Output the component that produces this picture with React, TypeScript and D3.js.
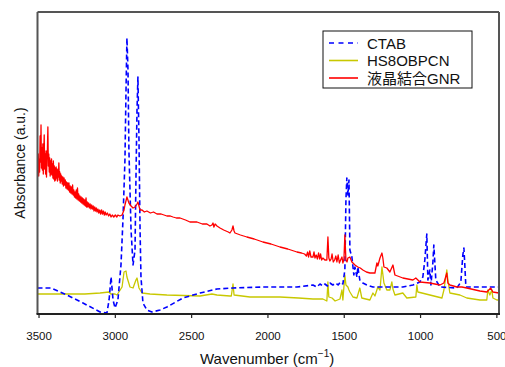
import * as d3 from "d3";

// IR spectra, wavenumber (cm-1) vs absorbance (a.u.)
const ctab: [number, number][] = [
  [3510, 0.26], [3420, 0.26], [3317, 0.19], [3212, 0.11], [3100, 0.02], [3055, 0.01],
  [3041, 0.14], [3028, 0.37], [3015, 0.14], [3002, 0.06], [2983, 0.14], [2963, 0.49],
  [2950, 0.94], [2937, 1.54], [2930, 2.24], [2924, 2.76], [2917, 2.44], [2911, 1.64],
  [2897, 0.84], [2884, 0.49], [2871, 0.64], [2865, 1.34], [2858, 2.04], [2852, 2.37],
  [2845, 1.74], [2838, 0.84], [2832, 0.37], [2819, 0.11], [2793, 0.04], [2760, 0.02],
  [2707, 0.04], [2662, 0.07], [2557, 0.16], [2445, 0.21], [2334, 0.25], [2229, 0.26],
  [2033, 0.27], [1810, 0.27], [1705, 0.29], [1680, 0.27], [1659, 0.30], [1640, 0.28],
  [1627, 0.30], [1610, 0.28], [1594, 0.31], [1575, 0.29], [1555, 0.31], [1540, 0.29],
  [1525, 0.32], [1509, 0.30], [1496, 0.44], [1489, 1.14], [1483, 1.36], [1476, 1.19],
  [1469, 1.34], [1463, 0.64], [1450, 0.57], [1437, 0.39], [1430, 0.47], [1417, 0.37],
  [1411, 0.47], [1398, 0.34], [1378, 0.31], [1352, 0.29], [1312, 0.27], [1221, 0.27],
  [1116, 0.27], [1050, 0.29], [1004, 0.32], [985, 0.37], [972, 0.54], [959, 0.80],
  [952, 0.34], [939, 0.44], [932, 0.29], [919, 0.52], [913, 0.69], [900, 0.34],
  [873, 0.27], [762, 0.26], [736, 0.32], [723, 0.59], [716, 0.66], [710, 0.49],
  [703, 0.27], [592, 0.27], [487, 0.27],
];

const hs8obpcn: [number, number][] = [
  [3510, 0.20], [3400, 0.20], [3300, 0.20], [3200, 0.20], [3100, 0.21], [3041, 0.22],
  [3030, 0.20], [3002, 0.20], [2989, 0.19], [2956, 0.27], [2943, 0.42], [2930, 0.43],
  [2924, 0.37], [2904, 0.27], [2884, 0.26], [2865, 0.34], [2858, 0.36], [2845, 0.26],
  [2825, 0.21], [2773, 0.20], [2662, 0.19], [2445, 0.18], [2367, 0.20], [2334, 0.19],
  [2249, 0.18], [2240, 0.18], [2229, 0.30], [2222, 0.19], [2118, 0.17], [1921, 0.17],
  [1800, 0.16], [1705, 0.15], [1640, 0.15], [1614, 0.13], [1607, 0.32], [1601, 0.17],
  [1580, 0.16], [1560, 0.13], [1528, 0.15], [1515, 0.24], [1509, 0.14], [1496, 0.39],
  [1489, 0.29], [1476, 0.27], [1469, 0.24], [1463, 0.22], [1443, 0.17], [1417, 0.16],
  [1398, 0.26], [1385, 0.16], [1332, 0.14], [1312, 0.21], [1299, 0.18], [1280, 0.27],
  [1266, 0.24], [1253, 0.47], [1240, 0.31], [1221, 0.24], [1201, 0.24], [1188, 0.32],
  [1181, 0.25], [1168, 0.19], [1116, 0.21], [1090, 0.16], [1031, 0.17], [1024, 0.29],
  [1018, 0.22], [991, 0.21], [939, 0.19], [860, 0.16], [847, 0.24], [828, 0.44],
  [821, 0.34], [808, 0.21], [742, 0.19], [697, 0.16], [611, 0.14], [566, 0.14],
  [559, 0.24], [546, 0.19], [533, 0.24], [526, 0.16], [500, 0.14], [487, 0.14],
];

const gnr: [number, number][] = [
  [3508, 1.49], [3505, 1.60], [3502, 1.38], [3499, 1.55], [3496, 1.42], [3493, 1.78],
  [3490, 1.52], [3487, 1.89], [3484, 1.46], [3481, 1.66], [3478, 1.44], [3475, 1.70],
  [3472, 1.40], [3469, 1.62], [3466, 1.79], [3463, 1.45], [3460, 1.60], [3457, 1.40],
  [3454, 1.63], [3451, 1.37], [3448, 1.56], [3445, 1.65], [3442, 1.87], [3439, 1.48],
  [3436, 1.60], [3433, 1.42], [3430, 1.56], [3427, 1.38], [3424, 1.53], [3421, 1.40],
  [3418, 1.55], [3415, 1.39], [3412, 1.50], [3409, 1.36], [3406, 1.53], [3403, 1.35],
  [3400, 1.48], [3397, 1.33], [3394, 1.46], [3391, 1.34], [3388, 1.47], [3385, 1.36],
  [3382, 1.45], [3379, 1.33], [3376, 1.44], [3373, 1.37], [3370, 1.51], [3367, 1.34],
  [3364, 1.42], [3361, 1.31], [3358, 1.40], [3355, 1.33], [3352, 1.38], [3348, 1.30],
  [3344, 1.37], [3340, 1.28], [3336, 1.36], [3332, 1.29], [3328, 1.34], [3324, 1.26],
  [3320, 1.32], [3316, 1.25], [3312, 1.31], [3308, 1.24], [3304, 1.31], [3300, 1.22],
  [3296, 1.28], [3292, 1.21], [3288, 1.27], [3284, 1.20], [3280, 1.29], [3276, 1.19],
  [3272, 1.24], [3268, 1.17], [3264, 1.22], [3260, 1.16], [3256, 1.24], [3252, 1.15],
  [3248, 1.26], [3244, 1.14], [3240, 1.20], [3236, 1.13], [3232, 1.18], [3228, 1.12],
  [3224, 1.17], [3220, 1.11], [3216, 1.16], [3212, 1.10], [3208, 1.15], [3204, 1.09],
  [3200, 1.14], [3196, 1.08], [3192, 1.16], [3188, 1.07], [3184, 1.12], [3180, 1.07],
  [3175, 1.11], [3170, 1.06], [3165, 1.10], [3160, 1.05], [3155, 1.09], [3150, 1.05],
  [3145, 1.08], [3140, 1.03], [3135, 1.07], [3130, 1.03], [3125, 1.06], [3120, 1.02],
  [3114, 1.05], [3108, 1.01], [3102, 1.04], [3096, 1.00], [3090, 1.04], [3084, 1.00],
  [3078, 1.03], [3072, 0.99], [3066, 1.02], [3060, 0.99], [3052, 1.01], [3044, 0.98],
  [3036, 1.00], [3028, 0.97], [3020, 0.99], [3010, 0.97], [3000, 0.99], [2990, 0.97],
  [2983, 0.99], [2970, 0.98], [2956, 0.99], [2943, 1.04], [2937, 1.09], [2924, 1.17],
  [2911, 1.11], [2897, 1.08], [2884, 1.06], [2871, 1.07], [2858, 1.10], [2852, 1.12],
  [2838, 1.04], [2825, 1.04], [2810, 1.02], [2793, 1.03], [2770, 1.01], [2750, 1.02],
  [2727, 1.00], [2700, 1.00], [2662, 0.98], [2640, 0.98], [2622, 0.97], [2600, 0.96],
  [2576, 0.96], [2540, 0.94], [2511, 0.92], [2465, 0.92], [2430, 0.90], [2400, 0.90],
  [2380, 0.88], [2367, 0.89], [2360, 0.91], [2354, 0.87], [2346, 0.90], [2334, 0.88],
  [2314, 0.86], [2290, 0.84], [2260, 0.82], [2249, 0.81], [2236, 0.84], [2229, 0.88],
  [2222, 0.83], [2216, 0.81], [2180, 0.79], [2138, 0.77], [2090, 0.75], [2033, 0.72],
  [1980, 0.70], [1921, 0.67], [1870, 0.65], [1810, 0.62], [1780, 0.61], [1760, 0.60],
  [1748, 0.58], [1740, 0.62], [1734, 0.57], [1726, 0.63], [1718, 0.57], [1705, 0.57],
  [1698, 0.62], [1692, 0.56], [1684, 0.59], [1676, 0.55], [1668, 0.61], [1661, 0.55],
  [1655, 0.60], [1648, 0.54], [1640, 0.56], [1627, 0.54], [1614, 0.54], [1607, 0.77],
  [1601, 0.56], [1594, 0.53], [1586, 0.55], [1580, 0.60], [1572, 0.52], [1563, 0.54],
  [1555, 0.58], [1548, 0.52], [1540, 0.59], [1532, 0.51], [1524, 0.54], [1515, 0.57],
  [1509, 0.51], [1502, 0.55], [1496, 0.79], [1489, 0.54], [1482, 0.52], [1476, 0.56],
  [1463, 0.57], [1450, 0.52], [1443, 0.51], [1430, 0.49], [1411, 0.47], [1395, 0.46],
  [1378, 0.44], [1355, 0.42], [1332, 0.41], [1299, 0.41], [1286, 0.51], [1280, 0.48],
  [1266, 0.56], [1253, 0.61], [1247, 0.56], [1240, 0.47], [1221, 0.46], [1201, 0.42],
  [1181, 0.49], [1168, 0.39], [1116, 0.36], [1050, 0.34], [1031, 0.36], [1004, 0.32],
  [939, 0.31], [873, 0.29], [847, 0.31], [828, 0.41], [821, 0.31], [808, 0.29],
  [762, 0.27], [729, 0.27], [697, 0.26], [611, 0.23], [566, 0.22], [540, 0.26],
  [526, 0.22], [487, 0.21],
];

const xTicks = [3500, 3000, 2500, 2000, 1500, 1000, 500];
const seriesNames = ["CTAB", "HS8OBPCN", "液晶結合GNR"];
const seriesColors = ["#0000ff", "#c8c800", "#ff0000"];

const W = 505;
const H = 367;
const left = 37.5;
const right = 499;
const top = 12;
const bottom = 314;

const x = d3.scaleLinear().domain([3510, 486]).range([left, right]);
const y = d3.scaleLinear().domain([0, 3.02]).range([bottom, top]);

const line = d3
  .line<[number, number]>()
  .x((d) => x(d[0]))
  .y((d) => y(d[1]));

const font = "'Liberation Sans', Arial, 'Noto Sans CJK JP', sans-serif";

export default function App() {
  const allSeries = [ctab, hs8obpcn, gnr];
  return (
    <div style={{ position: "absolute", left: 0, top: 0 }}>
      <svg width={W} height={H} style={{ display: "block", fontFamily: font }}>
        <defs>
          <clipPath id="plotclip">
            <rect x={left} y={top} width={right - left} height={bottom - top} />
          </clipPath>
        </defs>
        <rect x={0} y={0} width={W} height={H} fill="#fff" />

        <g clipPath="url(#plotclip)">
          {[1, 0, 2].map((i) => (
            <path
              key={i}
              d={line(allSeries[i]) || ""}
              fill="none"
              stroke={seriesColors[i]}
              strokeWidth={i === 0 ? 1.6 : 1.3}
              strokeDasharray={i === 0 ? "5,3" : undefined}
              strokeLinejoin="round"
            />
          ))}
        </g>

        {/* frame */}
        <line x1={left} x2={left} y1={top} y2={bottom} stroke="#555" strokeWidth={2} />
        <line x1={left} x2={right} y1={top} y2={top} stroke="#555" strokeWidth={2} />
        <line x1={right} x2={right} y1={top} y2={bottom} stroke="#555" strokeWidth={2} />
        <line x1={left - 1} x2={right + 1} y1={bottom} y2={bottom} stroke="#222" strokeWidth={1.8} />

        {xTicks.map((t) => (
          <g key={t} transform={`translate(${x(t)},${bottom})`}>
            <line y1={0} y2={4} stroke="#222" strokeWidth={1.2} />
            <text y={26} textAnchor="middle" fontSize={11.5} fill="#111">
              {t}
            </text>
          </g>
        ))}

        <text x={200} y={364} fontSize={15} fill="#111">
          Wavenumber (cm
          <tspan dy={-7} fontSize={10}>−1</tspan>
          <tspan dy={7}>)</tspan>
        </text>
        <text
          transform="translate(25,163) rotate(-90)"
          textAnchor="middle"
          fontSize={14}
          fill="#111"
        >
          Absorbance (a.u.)
        </text>

        {/* legend */}
        <rect x={323} y={31} width={149} height={57} fill="#fff" stroke="#111" strokeWidth={1} />
        {seriesNames.map((name, i) => (
          <g key={name} transform={`translate(0,${43 + i * 17.5})`}>
            <line
              x1={329}
              x2={358}
              y1={0}
              y2={0}
              stroke={seriesColors[i]}
              strokeWidth={i === 0 ? 1.3 : 1.6}
              strokeDasharray={i === 0 ? "5,4.5" : undefined}
            />
            <text x={367} y={5.5} fontSize={15} fill="#111">
              {name}
            </text>
          </g>
        ))}
      </svg>
    </div>
  );
}
